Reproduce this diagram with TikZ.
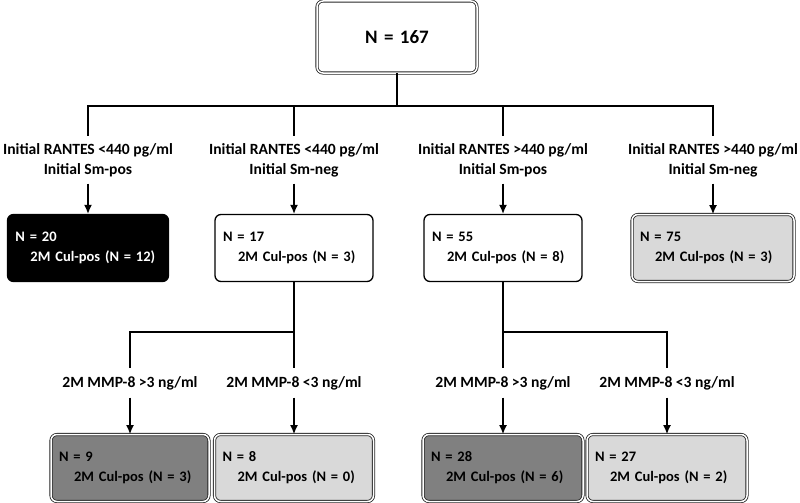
\documentclass[tikz,border=0pt]{standalone}
\usepackage{fontspec}
\setmainfont{Carlito}
\usetikzlibrary{arrows.meta,positioning}

\begin{document}
\begin{tikzpicture}[
	%	style def
    x=1pt, y=-1pt,
    every node/.style={font=\bfseries\fontsize{15.6}{20}\selectfont},
    important line/.style={line width=1.3pt},
    arrow line/.style={important line, -{Latex[length=9pt,width=8pt]}},
    split label/.style={align=center, inner sep=0pt, minimum height=47pt},
    cut label/.style={align=center, inner sep=0pt, minimum height=29pt},
    group box/.style={rounded corners=6pt, align=left, inner xsep=8pt, inner ysep=0pt, minimum height=67pt, text width=#1, font=\bfseries\fontsize{14.5}{20}\selectfont},
    plain box/.style={group box=#1, draw, line width=1.3pt, fill=white},
    black box/.style={plain box=#1, fill=black, text=white},
    double box/.style={group box=#1, draw=black!85, line width=0.8pt, double=white, double distance=1.5pt},
    pale box/.style={double box=#1, fill=black!15},
    dark box/.style={double box=#1, fill=black!50}
    ]
    \useasboundingbox (0,0) rectangle (800,503);

	% root
    \node[double box=144pt, minimum height=72pt, align=center, font=\bfseries\fontsize{19}{24}\selectfont] (all) at (397,37) {N = 167};
    \coordinate (hub) at (397,106);

	% first split (RANTES, smear)
    \node[split label] (c1) at (88,160) {Initial RANTES <440 pg/ml\\Initial Sm-pos};
    \node[split label] (c2) at (294,160) {Initial RANTES <440 pg/ml\\Initial Sm-neg};
    \node[split label] (c3) at (503,160) {Initial RANTES >440 pg/ml\\Initial Sm-pos};
    \node[split label] (c4) at (713,160) {Initial RANTES >440 pg/ml\\Initial Sm-neg};

    \node[black box=145pt] (n20) at (88,248) {N = 20\\\hspace*{15pt}2M Cul-pos (N = 12)};
    \node[plain box=142pt] (n17) at (294,248) {N = 17\\\hspace*{15pt}2M Cul-pos (N = 3)};
    \node[plain box=142pt] (n55) at (503,248) {N = 55\\\hspace*{15pt}2M Cul-pos (N = 8)};
    \node[pale box=146pt] (n75) at (713,248) {N = 75\\\hspace*{15pt}2M Cul-pos (N = 3)};

    \draw[important line] (all) -- (hub);
    \draw[important line] (hub) -| (c1);
    \draw[important line] (hub) -| (c2);
    \draw[important line] (hub) -| (c3);
    \draw[important line] (hub) -| (c4);
    \draw[arrow line] (c1) -- (n20);
    \draw[arrow line] (c2) -- (n17);
    \draw[arrow line] (c3) -- (n55);
    \draw[arrow line] (c4) -- (n75);

	% second split (MMP-8)
    \coordinate (s1) at (294,332);
    \coordinate (s2) at (503,332);
    \node[cut label] (d1) at (130,383) {2M MMP-8 >3 ng/ml};
    \node[cut label] (d2) at (294,383) {2M MMP-8 <3 ng/ml};
    \node[cut label] (d3) at (503,383) {2M MMP-8 >3 ng/ml};
    \node[cut label] (d4) at (667,383) {2M MMP-8 <3 ng/ml};

    \node[dark box=142pt] (n9) at (130,468) {N = 9\\\hspace*{15pt}2M Cul-pos (N = 3)};
    \node[pale box=143pt] (n8) at (294,468) {N = 8\\\hspace*{15pt}2M Cul-pos (N = 0)};
    \node[dark box=144pt] (n28) at (503,468) {N = 28\\\hspace*{15pt}2M Cul-pos (N = 6)};
    \node[pale box=144pt] (n27) at (667,468) {N = 27\\\hspace*{15pt}2M Cul-pos (N = 2)};

    \draw[important line] (n17) -- (d2);
    \draw[important line] (s1) -| (d1);
    \draw[important line] (n55) -- (d3);
    \draw[important line] (s2) -| (d4);
    \draw[arrow line] (d1) -- (n9);
    \draw[arrow line] (d2) -- (n8);
    \draw[arrow line] (d3) -- (n28);
    \draw[arrow line] (d4) -- (n27);
\end{tikzpicture}
\end{document}
